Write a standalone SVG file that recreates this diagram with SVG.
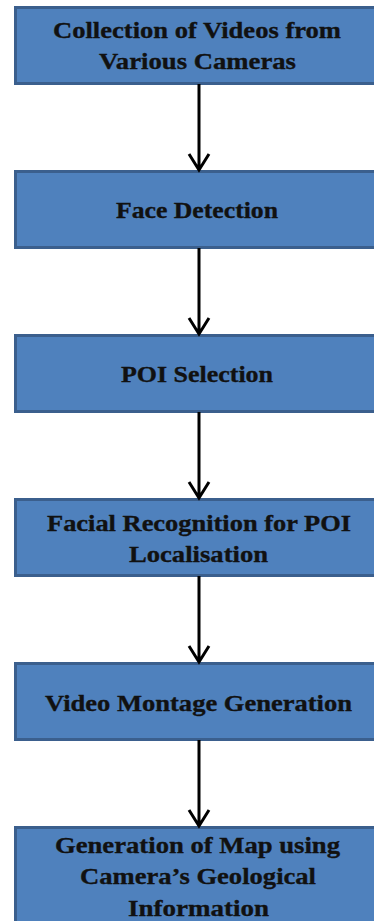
<svg xmlns="http://www.w3.org/2000/svg" width="374" height="921" viewBox="0 0 374 921">
<style>
.box{fill:#4F81BD;stroke:#3B5F8D;stroke-width:3}
.t{font-family:"Liberation Serif","Times New Roman",serif;font-weight:bold;font-size:24px;fill:#111;stroke:#111;stroke-width:0.35;text-anchor:middle}
.c{stroke:#000;stroke-width:3;fill:none}
</style>
<g id="n1"><rect class="box" x="15.5" y="7.5" width="370" height="76"/>
<text class="t" x="197" y="38" textLength="288" lengthAdjust="spacingAndGlyphs">Collection of Videos from</text>
<text class="t" x="197.5" y="69" textLength="197" lengthAdjust="spacingAndGlyphs">Various Cameras</text></g>
<g id="n2"><rect class="box" x="15.5" y="171.5" width="370" height="76"/>
<text class="t" x="197" y="218" textLength="162" lengthAdjust="spacingAndGlyphs">Face Detection</text></g>
<g id="n3"><rect class="box" x="15.5" y="335.5" width="370" height="76"/>
<text class="t" x="197" y="382" textLength="152" lengthAdjust="spacingAndGlyphs">POI Selection</text></g>
<g id="n4"><rect class="box" x="15.5" y="499.5" width="370" height="76"/>
<text class="t" x="199" y="531" textLength="304" lengthAdjust="spacingAndGlyphs">Facial Recognition for POI</text>
<text class="t" x="198.5" y="562" textLength="139" lengthAdjust="spacingAndGlyphs">Localisation</text></g>
<g id="n5"><rect class="box" x="15.5" y="663.5" width="370" height="76"/>
<text class="t" x="198.5" y="711" textLength="307" lengthAdjust="spacingAndGlyphs">Video Montage Generation</text></g>
<g id="n6"><rect class="box" x="15.5" y="827.5" width="370" height="110"/>
<text class="t" x="197.5" y="853" textLength="285" lengthAdjust="spacingAndGlyphs">Generation of Map using</text>
<text class="t" x="198" y="884" textLength="236" lengthAdjust="spacingAndGlyphs">Camera’s Geological</text>
<text class="t" x="198.5" y="916" textLength="141" lengthAdjust="spacingAndGlyphs">Information</text></g>
<g id="connectors">
<path class="c" d="M199 84V169M189 154L199 170L209 154"/>
<path class="c" d="M199 248V333M189 318L199 334L209 318"/>
<path class="c" d="M199 412V497M189 482L199 498L209 482"/>
<path class="c" d="M199 576V661M189 646L199 662L209 646"/>
<path class="c" d="M199 740V825M189 810L199 826L209 810"/>
</g>
</svg>
